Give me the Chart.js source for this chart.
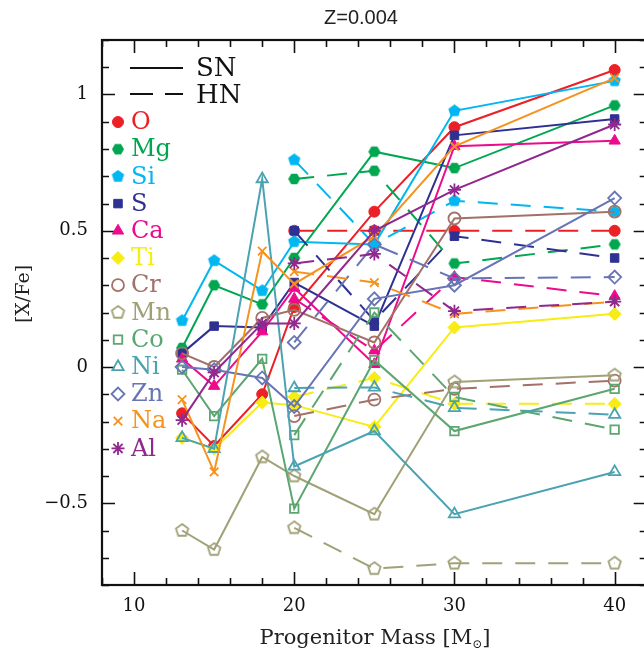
<!DOCTYPE html>
<html>
<head>
<meta charset="utf-8">
<script src="https://cdn.jsdelivr.net/npm/chart.js@4.4.1/dist/chart.umd.min.js"></script>
<style>
html, body { margin: 0; padding: 0; background: #fff; overflow: hidden; }
#wrap { width: 655px; height: 653px; }
</style>
</head>
<body>
<div id="wrap"><canvas id="abund" width="655" height="653"></canvas></div>
<script>
// progenitor masses of the two model grids
const snMass = [13, 15, 18, 20, 25, 30, 40];
const hnMass = [20, 25, 30, 40];

const elements = ['O', 'Mg', 'Si', 'S', 'Ca', 'Ti', 'Cr', 'Mn', 'Co', 'Ni', 'Zn', 'Na', 'Al'];

// [X/Fe] for normal supernovae (SN) and hypernovae (HN)
const snO  = [-0.17, -0.29, -0.10, 0.22, 0.57, 0.88, 1.09];
const hnO  = [0.50, 0.50, 0.50, 0.50];
const snMg = [0.07, 0.30, 0.23, 0.40, 0.79, 0.73, 0.96];
const hnMg = [0.69, 0.72, 0.38, 0.45];
const snSi = [0.17, 0.39, 0.28, 0.46, 0.45, 0.94, 1.05];
const hnSi = [0.76, 0.45, 0.61, 0.57];
const snS  = [0.05, 0.15, 0.145, 0.31, 0.15, 0.85, 0.91];
const hnS  = [0.50, 0.17, 0.48, 0.40];
const snCa = [0.03, -0.07, 0.13, 0.29, 0.01, 0.81, 0.83];
const hnCa = [0.25, 0.06, 0.33, 0.26];
const snTi = [-0.26, -0.30, -0.13, -0.14, -0.22, 0.145, 0.195];
const hnTi = [-0.11, -0.04, -0.135, -0.135];
const snCr = [0.05, 0.00, 0.18, 0.21, 0.09, 0.545, 0.57];
const hnCr = [-0.18, -0.12, -0.08, -0.05];
const snMn = [-0.60, -0.67, -0.33, -0.40, -0.54, -0.055, -0.03];
const hnMn = [-0.59, -0.74, -0.72, -0.72];
const snCo = [-0.01, -0.18, 0.03, -0.52, 0.025, -0.235, -0.08];
const hnCo = [-0.25, 0.20, -0.11, -0.23];
const snNi = [-0.26, -0.30, 0.69, -0.365, -0.235, -0.54, -0.385];
const hnNi = [-0.077, -0.075, -0.15, -0.175];
const snZn = [0.00, -0.01, -0.04, -0.145, 0.25, 0.30, 0.62];
const hnZn = [0.09, 0.45, 0.325, 0.33];
const snNa = [-0.12, -0.385, 0.425, 0.305, 0.48, 0.81, 1.06];
const hnNa = [0.35, 0.31, 0.195, 0.24];
const snAl = [-0.195, -0.02, 0.16, 0.16, 0.50, 0.65, 0.89];
const hnAl = [0.38, 0.415, 0.205, 0.24];

const xTicks = [10, 20, 30, 40];
const yTicks = [-0.5, 0, 0.5, 1];

const series = {
    O: [snO, hnO], Mg: [snMg, hnMg], Si: [snSi, hnSi], S: [snS, hnS], Ca: [snCa, hnCa],
    Ti: [snTi, hnTi], Cr: [snCr, hnCr], Mn: [snMn, hnMn], Co: [snCo, hnCo], Ni: [snNi, hnNi],
    Zn: [snZn, hnZn], Na: [snNa, hnNa], Al: [snAl, hnAl]
};

const styles = {
    O:  { color: '#ec2027', shape: 'circle',   fill: true,  r: 5.5 },
    Mg: { color: '#00a650', shape: 'hexagon',  fill: true,  r: 6 },
    Si: { color: '#00b7f1', shape: 'pentagon', fill: true,  r: 6.5 },
    S:  { color: '#2e3192', shape: 'rect',     fill: true,  r: 6 },
    Ca: { color: '#ec0b8d', shape: 'triangle', fill: true,  r: 6.5 },
    Ti: { color: '#f7ec13', shape: 'rectRot',  fill: true,  r: 6.5 },
    Cr: { color: '#a27169', shape: 'circle',   fill: false, r: 6 },
    Mn: { color: '#a1a178', shape: 'pentagon', fill: false, r: 6.5 },
    Co: { color: '#5ba671', shape: 'rect',     fill: false, r: 6 },
    Ni: { color: '#4ba3b2', shape: 'triangle', fill: false, r: 6.5 },
    Zn: { color: '#6775b6', shape: 'rectRot',  fill: false, r: 6.5 },
    Na: { color: '#f6921e', shape: 'crossRot', fill: false, r: 6 },
    Al: { color: '#90288e', shape: 'star',     fill: false, r: 6.5 }
};

const SERIF = '"DejaVu Serif", "Liberation Serif", serif';

// pentagon / hexagon markers are not built into Chart.js, so render them to small canvases
function polygonMarker(n, r, color, filled, rot) {
    const size = Math.ceil(r * 2 + 4);
    const cv = document.createElement('canvas');
    cv.width = size;
    cv.height = size;
    const g = cv.getContext('2d');
    g.beginPath();
    for (let k = 0; k < n; k++) {
        const a = rot + k * 2 * Math.PI / n;
        const px = size / 2 + r * Math.cos(a);
        const py = size / 2 + r * Math.sin(a);
        if (k === 0) g.moveTo(px, py); else g.lineTo(px, py);
    }
    g.closePath();
    if (filled) {
        g.fillStyle = color;
        g.fill();
    } else {
        g.lineWidth = 1.8;
        g.strokeStyle = color;
        g.stroke();
    }
    return cv;
}

function markerFor(st) {
    if (st.shape === 'pentagon') return polygonMarker(5, st.r, st.color, st.fill, -Math.PI / 2);
    if (st.shape === 'hexagon') return polygonMarker(6, st.r, st.color, st.fill, 0);
    return st.shape;
}

const datasets = [];
elements.forEach(function(el, i) {
    const st = styles[el];
    const marker = markerFor(st);
    st.marker = marker;
    const common = {
        borderColor: st.color,
        backgroundColor: st.fill ? st.color : 'rgba(0,0,0,0)',
        pointBorderColor: st.color,
        pointBackgroundColor: st.fill ? st.color : 'rgba(0,0,0,0)',
        pointStyle: marker,
        pointRadius: st.r,
        pointBorderWidth: st.fill ? 1 : 1.8,
        borderWidth: 2,
        tension: 0,
        fill: false,
        order: -i
    };
    const sn = series[el][0];
    const hn = series[el][1];
    datasets.push(Object.assign({}, common, {
        label: el + ' SN',
        data: snMass.map((m, k) => ({ x: m, y: sn[k] }))
    }));
    datasets.push(Object.assign({}, common, {
        label: el + ' HN',
        borderDash: [20, 13],
        data: hnMass.map((m, k) => ({ x: m, y: hn[k] }))
    }));
});

// frame with inward ticks on all sides, axis titles, title and the hand-laid legend
const framePlugin = {
    id: 'frame',
    afterDraw(chart) {
        const ctx = chart.ctx;
        const ca = chart.chartArea;
        const xs = chart.scales.x;
        const ys = chart.scales.y;
        ctx.save();

        ctx.strokeStyle = '#111';
        ctx.lineWidth = 2.2;
        ctx.strokeRect(ca.left, ca.top, ca.right - ca.left, ca.bottom - ca.top);

        ctx.lineWidth = 1.6;
        ctx.beginPath();
        for (let v = 8; v <= 42; v += 2) {
            const len = v % 10 === 0 ? 13 : 7;
            const px = Math.round(xs.getPixelForValue(v)) + 0.5;
            ctx.moveTo(px, ca.bottom); ctx.lineTo(px, ca.bottom - len);
            ctx.moveTo(px, ca.top); ctx.lineTo(px, ca.top + len);
        }
        for (let k = -8; k <= 12; k++) {
            const len = k % 5 === 0 ? 13 : 7;
            const py = Math.round(ys.getPixelForValue(k / 10)) + 0.5;
            ctx.moveTo(ca.left, py); ctx.lineTo(ca.left + len, py);
            ctx.moveTo(ca.right, py); ctx.lineTo(ca.right - len, py);
        }
        ctx.stroke();

        // title
        ctx.fillStyle = '#222';
        ctx.textAlign = 'center';
        ctx.textBaseline = 'middle';
        ctx.font = '20px "Liberation Sans", Arial, sans-serif';
        ctx.fillText('Z=0.004', 361, 18);

        // y axis title
        ctx.save();
        ctx.translate(24, 294);
        ctx.rotate(-Math.PI / 2);
        ctx.font = '19px ' + SERIF;
        ctx.fillText('[X/Fe]', 0, 0);
        ctx.restore();

        // x axis title with subscript sun symbol
        const a = 'Progenitor Mass [M';
        const b = ']';
        ctx.font = '21px ' + SERIF;
        const wa = ctx.measureText(a).width;
        const wb = ctx.measureText(b).width;
        ctx.font = '12px ' + SERIF;
        const ws = ctx.measureText('\u2299').width;
        const x0 = 375 - (wa + ws + wb) / 2;
        ctx.textAlign = 'left';
        ctx.textBaseline = 'alphabetic';
        ctx.font = '21px ' + SERIF;
        ctx.fillText(a, x0, 644);
        ctx.font = '12px ' + SERIF;
        ctx.fillText('\u2299', x0 + wa, 648);
        ctx.font = '21px ' + SERIF;
        ctx.fillText(b, x0 + wa + ws, 644);

        // legend: line styles
        ctx.strokeStyle = '#111';
        ctx.lineWidth = 2;
        ctx.beginPath();
        ctx.moveTo(130, 68); ctx.lineTo(183, 68);
        ctx.stroke();
        ctx.setLineDash([23, 12]);
        ctx.beginPath();
        ctx.moveTo(130, 94); ctx.lineTo(183, 94);
        ctx.stroke();
        ctx.setLineDash([]);
        ctx.fillStyle = '#111';
        ctx.textBaseline = 'middle';
        ctx.font = '26px ' + SERIF;
        ctx.fillText('SN', 196, 69);
        ctx.fillText('HN', 196, 96);

        // legend: elements
        elements.forEach(function(el, i) {
            const st = styles[el];
            const y = 122 + i * 27.2;
            ctx.fillStyle = st.fill ? st.color : 'rgba(0,0,0,0)';
            ctx.strokeStyle = st.color;
            ctx.lineWidth = st.fill ? 1 : 1.8;
            Chart.helpers.drawPoint(ctx, {
                pointStyle: st.marker, radius: st.r, rotation: 0, borderWidth: ctx.lineWidth
            }, 118, y);
            ctx.fillStyle = st.color;
            ctx.font = '24px ' + SERIF;
            ctx.fillText(el, 131, y + 1);
        });

        ctx.restore();
    }
};

new Chart(document.getElementById('abund'), {
    type: 'line',
    data: { datasets: datasets },
    options: {
        responsive: false,
        animation: false,
        layout: { padding: { top: 40, right: 4, left: 0, bottom: 0 } },
        plugins: {
            legend: { display: false },
            tooltip: { enabled: false }
        },
        scales: {
            x: {
                type: 'linear',
                min: 8,
                max: 42,
                afterBuildTicks: s => { s.ticks = xTicks.map(v => ({ value: v })); },
                afterFit: s => { s.height = 68; },
                grid: { display: false, drawTicks: false },
                border: { display: false },
                ticks: {
                    autoSkip: false,
                    maxRotation: 0,
                    padding: 11,
                    color: '#111',
                    font: { family: SERIF, size: 18 }
                }
            },
            y: {
                type: 'linear',
                min: -0.8,
                max: 1.2,
                afterBuildTicks: s => { s.ticks = yTicks.map(v => ({ value: v })); },
                afterFit: s => { s.width = 102; },
                grid: { display: false, drawTicks: false },
                border: { display: false },
                ticks: {
                    autoSkip: false,
                    padding: 14,
                    color: '#111',
                    font: { family: SERIF, size: 18 },
                    callback: v => v < 0 ? '\u2212' + Math.abs(v) : String(v)
                }
            }
        }
    },
    plugins: [framePlugin]
});
</script>
</body>
</html>
